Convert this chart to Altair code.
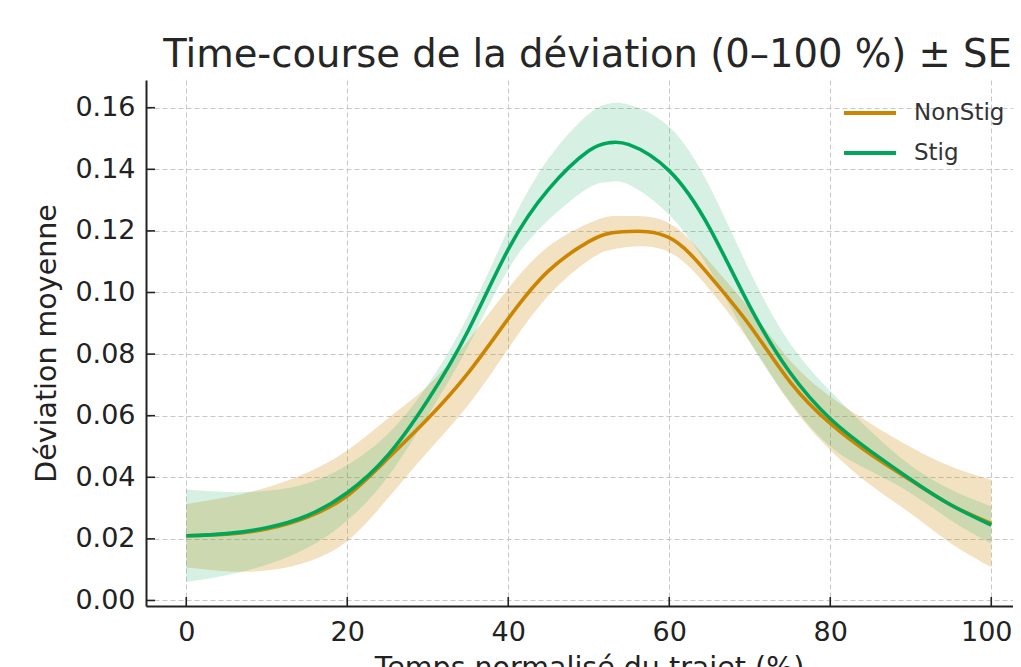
import altair as alt
import pandas as pd

# ---- data ----
x_pct = [0, 5, 10, 15, 20, 25, 30, 35, 40, 45, 50, 52.5, 55, 60, 65, 70, 75, 80, 85, 90, 95, 100]

nonstig_mean = [0.0210, 0.0215, 0.0232, 0.0270, 0.0340, 0.0460, 0.0590, 0.0738, 0.0915, 0.1070, 0.1165,
                0.1192, 0.1198, 0.1178, 0.1055, 0.0893, 0.0710, 0.0575, 0.0475, 0.0390, 0.0310, 0.0250]
nonstig_lo = [0.0107, 0.0095, 0.0097, 0.0125, 0.0193, 0.0330, 0.0483, 0.0633, 0.0817, 0.0990, 0.1105,
              0.1137, 0.1148, 0.1131, 0.1010, 0.0839, 0.0640, 0.0488, 0.0375, 0.0282, 0.0185, 0.0108]
nonstig_hi = [0.0313, 0.0335, 0.0367, 0.0415, 0.0487, 0.0590, 0.0697, 0.0843, 0.1013, 0.1150, 0.1225,
              0.1247, 0.1248, 0.1225, 0.1100, 0.0947, 0.0780, 0.0662, 0.0575, 0.0498, 0.0435, 0.0392]

stig_mean = [0.0210, 0.0217, 0.0236, 0.0275, 0.0350, 0.0470, 0.0650, 0.0875, 0.1140, 0.1335, 0.1460,
             0.1486, 0.1480, 0.1395, 0.1210, 0.0955, 0.0740, 0.0590, 0.0485, 0.0393, 0.0310, 0.0245]
stig_lo = [0.0060, 0.0082, 0.0116, 0.0170, 0.0260, 0.0400, 0.0600, 0.0825, 0.1075, 0.1235, 0.1340,
           0.1359, 0.1350, 0.1252, 0.1075, 0.0840, 0.0645, 0.0500, 0.0420, 0.0348, 0.0260, 0.0185]
stig_hi = [0.0360, 0.0352, 0.0356, 0.0380, 0.0440, 0.0540, 0.0700, 0.0925, 0.1205, 0.1435, 0.1580,
           0.1613, 0.1610, 0.1538, 0.1345, 0.1070, 0.0835, 0.0680, 0.0550, 0.0438, 0.0360, 0.0305]

groups = ["NonStig", "Stig"]
colors = ["#cc8500", "#00a65a"]
band_opacity = [0.24, 0.16]

x_ticks = [0, 20, 40, 60, 80, 100]
y_ticks = [0.00, 0.02, 0.04, 0.06, 0.08, 0.10, 0.12, 0.14, 0.16]

TITLE = "Time-course de la déviation (0–100 %) ± SE"
XT = "Temps normalisé du trajet (%)"
YT = "Déviation moyenne"
FONT = "DejaVu Sans"

rows = []
for g, m, lo, hi in [("NonStig", nonstig_mean, nonstig_lo, nonstig_hi),
                     ("Stig", stig_mean, stig_lo, stig_hi)]:
    for xi, mi, li, hi_ in zip(x_pct, m, lo, hi):
        rows.append({"x": xi, "mean": mi, "lo": li, "hi": hi_, "group": g})
df = pd.DataFrame(rows)
xt_df = pd.DataFrame({"x": x_ticks})
yt_df = pd.DataFrame({"mean": y_ticks})

W, H = 867, 526
xscale = alt.Scale(domain=[-5, 102.7], nice=False, zero=False)
yscale = alt.Scale(domain=[-0.0018, 0.169], nice=False, zero=False)
cscale = alt.Scale(domain=groups, range=colors)

xaxis = alt.Axis(values=x_ticks, labelPadding=13, labelFlush=False, titleY=70, titleX=443,
                 titleBaseline="alphabetic", titleFontSize=28.5,
                 labelOffset={"condition": {"test": "datum.value === 100", "value": -5}, "value": 0})
yaxis = alt.Axis(values=y_ticks, format=".2f", labelPadding=11, titleAngle=270,
                 titleX=-91, titleY=H / 2, titleBaseline="alphabetic", titleAlign="center",
                 titleFontSize=28.5)

bands = alt.Chart(df).mark_area(interpolate="natural").encode(
    x=alt.X("x:Q", scale=xscale, axis=xaxis, title=XT),
    y=alt.Y("lo:Q", scale=yscale, axis=yaxis, title=YT, stack=None),
    y2="hi:Q",
    color=alt.Color("group:N", scale=cscale, legend=None),
    opacity=alt.Opacity("group:N", scale=alt.Scale(domain=groups, range=band_opacity), legend=None),
)

lines = alt.Chart(df).mark_line(interpolate="natural", strokeWidth=3.6).encode(
    x=alt.X("x:Q", scale=xscale, title=XT),
    y=alt.Y("mean:Q", scale=yscale, title=YT),
    color=alt.Color("group:N", scale=cscale,
                    legend=alt.Legend(orient="none", legendX=696, legendY=5, title=None,
                                      symbolType="stroke", symbolStrokeWidth=4, symbolSize=2704,
                                      labelFontSize=23, labelFont=FONT, labelColor="#333333",
                                      labelOffset=16, rowPadding=-3)),
)

xticks = alt.Chart(xt_df).mark_rule(color="#222222", strokeWidth=1.6).encode(
    x=alt.X("x:Q", scale=xscale, title=XT),
    y=alt.value(H), y2=alt.value(H - 9),
)
yticks = alt.Chart(yt_df).mark_rule(color="#222222", strokeWidth=1.6).encode(
    y=alt.Y("mean:Q", scale=yscale, title=YT),
    x=alt.value(0), x2=alt.value(9),
)

chart = alt.layer(bands, lines, xticks, yticks).resolve_scale(color="independent").properties(
    width=W, height=H,
    autosize=alt.AutoSizeParams(type="none"),
    padding={"left": 138, "top": 72, "right": 0, "bottom": 80},
    title=alt.TitleParams(TITLE, fontSize=38.5, font=FONT, color="#262626", fontWeight="normal",
                          anchor="middle", frame="group", offset=15, dy=40, dx=8,
                          baseline="alphabetic"),
).configure_view(stroke=None).configure_axis(
    domainColor="#222222", domainWidth=2, ticks=False, tickSize=0,
    gridColor="#c8c8c8", gridDash=[5, 3], gridWidth=1,
    labelFont=FONT, labelFontSize=27, labelColor="#222222",
    titleFont=FONT, titleFontWeight="normal", titleColor="#222222",
)

chart.save("out.html", embed_options={"renderer": "svg", "actions": False})
